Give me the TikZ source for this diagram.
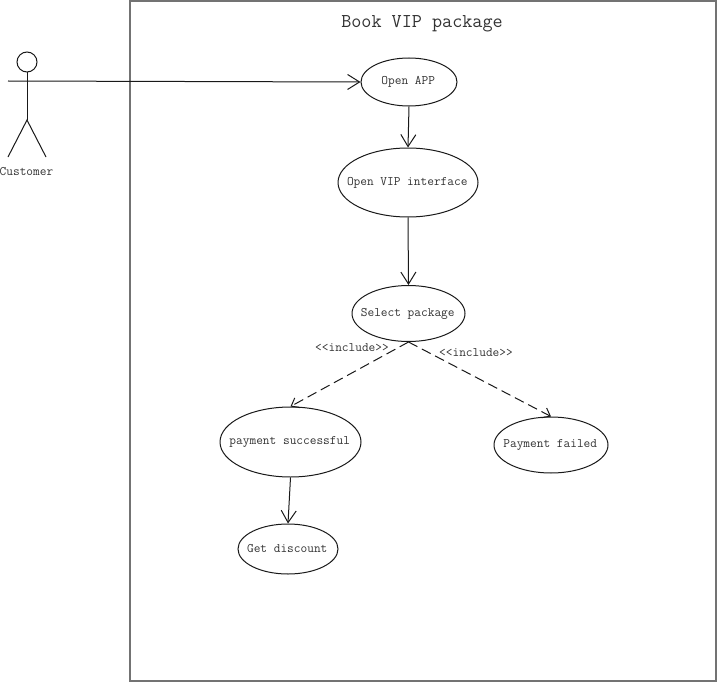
\documentclass[tikz,border=0pt]{standalone}
\usetikzlibrary{shapes.geometric,arrows.meta}
\newcommand{\zw}[1]{\makebox[0pt]{\hspace{-1.5pt}\raisebox{-1.8pt}{#1}}}
\tikzset{
  uc/.style={draw=black!90,line width=1pt,ellipse,inner sep=0pt,text=black!80,font=\ttfamily\fontsize{13}{14}\selectfont},
  flow/.style={draw=black!90,line width=1pt,-{Straight Barb[length=12pt,width=15pt,line width=1pt]}},
  dep/.style={flow,dash pattern=on 10pt off 5pt,-{Straight Barb[length=7pt,width=11pt,line width=1pt]}},
  lbl/.style={inner sep=0pt,text=black!80,font=\ttfamily\fontsize{13}{14}\selectfont},
  stick/.style={draw=black!90,line width=1pt}
}
\begin{document}
\begin{tikzpicture}[x=1pt,y=-1pt]
\useasboundingbox (0,0) rectangle (717,682);
\draw[draw=black!55,line width=1.6pt] (130,1) rectangle (716,681);
\node[lbl,font=\ttfamily\fontsize{19.6}{22}\selectfont] (title) at (422,24) {Book VIP package};
% actor
\node[draw=black!90,line width=1pt,circle,minimum size=20pt,inner sep=0pt] (head) at (27,62) {};
\coordinate (hip) at (27,120);
\coordinate (lfoot) at (8,157);
\coordinate (rfoot) at (46,157);
\coordinate (hand) at (8,81);
\draw[stick] (head.south) -- (hip);
\draw[stick] (lfoot) -- (hip) -- (rfoot);
\node[lbl] (cust) at (26.5,172) {Customer};
% use cases
\node[uc,minimum width=96pt,minimum height=48pt] (app) at (409,82) {\zw{Open APP}};
\node[uc,minimum width=140pt,minimum height=69pt] (vip) at (408,182.5) {\zw{Open VIP interface}};
\node[uc,minimum width=113pt,minimum height=56pt] (sel) at (408.5,313.5) {\zw{Select package}};
\node[uc,minimum width=141pt,minimum height=70pt] (ok) at (290.5,442) {\zw{payment successful}};
\node[uc,minimum width=114pt,minimum height=56pt] (fail) at (551,445) {\zw{Payment failed}};
\node[uc,minimum width=100pt,minimum height=50pt] (disc) at (288,549) {\zw{Get discount}};
% connectors
\draw[flow] (hand) -- (app.west);
\draw[flow] (app.south) -- (vip.north);
\draw[flow] (vip.south) -- (sel.north);
\draw[flow] (ok.south) -- (disc.north);
\draw[dep] (sel.south) -- (ok.north);
\draw[dep] (sel.south) -- (fail.north);
\node[lbl] (inc1) at (352,347.5) {<{}<include>{}>};
\node[lbl] (inc2) at (476,352.5) {<{}<include>{}>};
\end{tikzpicture}
\end{document}
